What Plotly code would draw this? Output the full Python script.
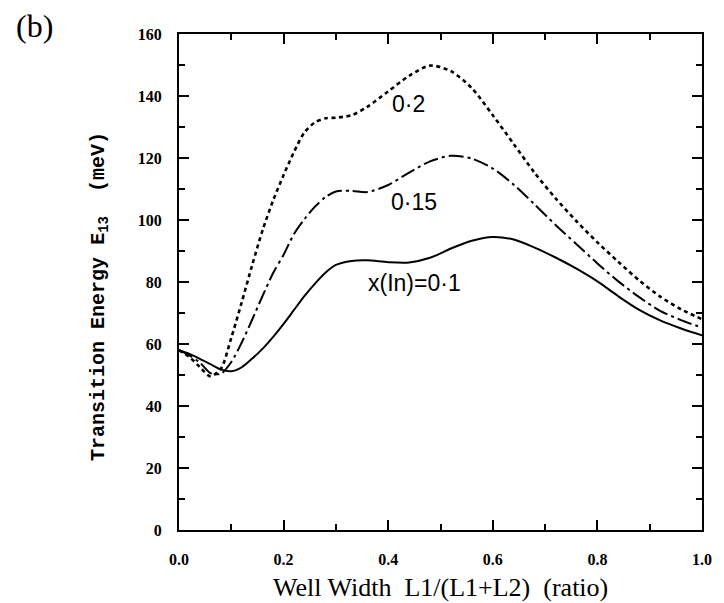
import plotly.graph_objects as go

# Well-width ratio L1/(L1+L2)
ratio = [0.00, 0.02, 0.04, 0.06, 0.08, 0.10, 0.12, 0.14, 0.16, 0.18, 0.20,
         0.22, 0.24, 0.26, 0.28, 0.30, 0.33, 0.36, 0.40, 0.44, 0.48, 0.52,
         0.56, 0.60, 0.64, 0.68, 0.72, 0.76, 0.80, 0.84, 0.88, 0.92, 0.96, 1.00]

# Transition energy E13 (meV) for three indium fractions
e13_x010 = [58.0, 56.8, 55.2, 53.5, 51.8, 51.2, 52.5, 55.3, 58.5, 62.3, 66.5,
            71.0, 75.5, 79.5, 83.0, 85.5, 86.8, 87.0, 86.4, 86.3, 87.8, 90.8,
            93.3, 94.5, 93.7, 91.1, 87.9, 84.3, 80.2, 75.4, 71.0, 67.6, 65.0, 62.8]
e13_x015 = [58.0, 56.3, 54.0, 50.6, 50.4, 54.2, 60.5, 67.9, 75.6, 82.9, 88.8,
            95.5, 100.3, 104.3, 107.4, 109.2, 109.4, 109.0, 111.3, 115.3, 118.9, 120.7,
            119.8, 116.6, 111.4, 105.0, 98.4, 92.2, 86.0, 80.2, 75.1, 70.7, 67.7, 65.3]
e13_x020 = [58.0, 55.8, 52.5, 49.6, 52.0, 62.0, 73.5, 85.5, 96.8, 106.3, 114.5,
            122.0, 128.3, 131.5, 132.8, 133.0, 133.8, 136.5, 141.5, 146.5, 149.8, 148.0,
            142.5, 133.8, 124.5, 115.2, 107.0, 99.6, 92.8, 86.5, 80.5, 75.3, 71.2, 68.0]

curve_labels = ["x(In)=0·1", "0·15", "0·2"]
label_pos = [(0.451, 79.7), (0.450, 105.8), (0.439, 137.4)]

x_ticks = [0.0, 0.2, 0.4, 0.6, 0.8, 1.0]
y_ticks = [0, 20, 40, 60, 80, 100, 120, 140, 160]

fig = go.Figure()

fig.add_trace(go.Scatter(x=ratio, y=e13_x010, mode="lines",
                         line=dict(color="black", width=2, shape="spline", smoothing=0.8)))
fig.add_trace(go.Scatter(x=ratio, y=e13_x015, mode="lines",
                         line=dict(color="black", width=2, dash="15px,4px,3px,4px",
                                   shape="spline", smoothing=0.8)))
fig.add_trace(go.Scatter(x=ratio, y=e13_x020, mode="lines",
                         line=dict(color="black", width=2.6, dash="4px,3.5px",
                                   shape="spline", smoothing=0.8)))

label_font = dict(family="Liberation Sans, Arial, sans-serif", size=23, color="black")
for txt, (lx, ly) in zip(curve_labels, label_pos):
    fig.add_annotation(x=lx, y=ly, xref="x", yref="y", text=txt, showarrow=False,
                       font=label_font, xanchor="center", yanchor="middle")

# panel tag
fig.add_annotation(x=-0.277, y=1.016, xref="paper", yref="paper", text="(b)",
                   showarrow=False, xanchor="center", yanchor="middle",
                   font=dict(family="Liberation Serif, Times New Roman, serif", size=32, color="black"))

# axis titles
fig.add_annotation(x=0.5, y=-0.115, xref="paper", yref="paper",
                   text="Well Width\u00a0\u00a0L1/(L1+L2)\u00a0\u00a0(ratio)",
                   showarrow=False, xanchor="center", yanchor="middle",
                   font=dict(family="Liberation Serif, Times New Roman, serif", size=26, color="black"))
fig.add_annotation(x=-0.151, y=0.47, xref="paper", yref="paper", textangle=-90,
                   text="<b>Transition Energy E<sub>13</sub>\u00a0\u00a0(meV)</b>",
                   showarrow=False, xanchor="center", yanchor="middle",
                   font=dict(family="Liberation Mono, Courier New, monospace", size=20, color="black"))

tick_font = dict(family="Liberation Serif, Times New Roman, serif", size=16, color="black", weight="bold")
axis_common = dict(showline=True, linecolor="black", linewidth=2, mirror="ticks",
                   ticks="inside", ticklen=10, tickwidth=1.5, tickcolor="black",
                   showgrid=False, zeroline=False, tickfont=tick_font)

fig.update_xaxes(range=[0, 1], tickvals=x_ticks, ticktext=[f"{v:.1f}" for v in x_ticks],
                 minor=dict(dtick=0.1, ticks="inside", ticklen=6, tickwidth=1.5, tickcolor="black"),
                 ticklabelstandoff=14, **axis_common)
fig.update_yaxes(range=[0, 160], tickvals=y_ticks, ticktext=[str(v) for v in y_ticks],
                 minor=dict(dtick=10, ticks="inside", ticklen=6, tickwidth=1.5, tickcolor="black"),
                 ticklabelstandoff=12, **axis_common)

fig.update_layout(width=724, height=603, showlegend=False,
                  margin=dict(l=179, r=14, t=34, b=73),
                  paper_bgcolor="white", plot_bgcolor="white")

fig.write_html("out.html")
